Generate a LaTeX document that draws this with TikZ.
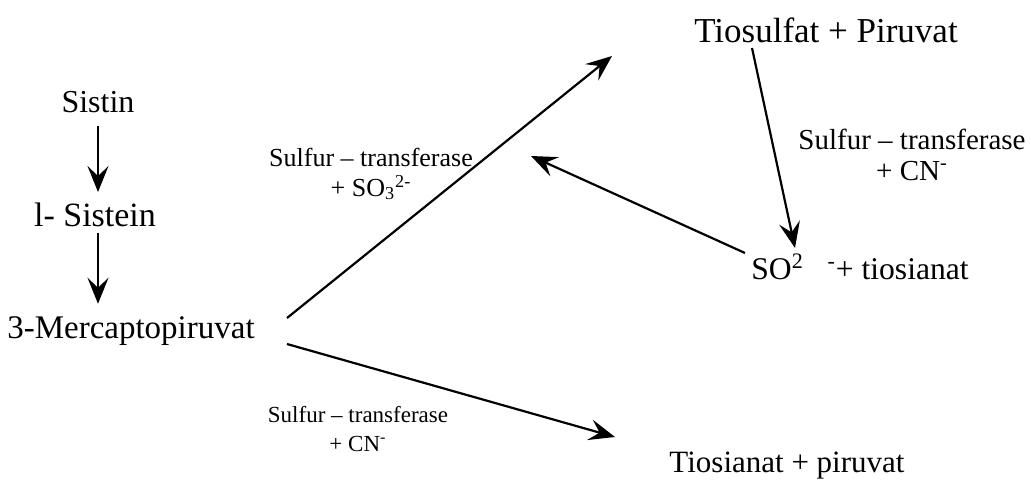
\documentclass[tikz,border=0pt]{standalone}
\usepackage{fontspec}
\setmainfont{Liberation Serif}
\usetikzlibrary{arrows.meta}

\begin{document}
\begin{tikzpicture}[x=0.5pt,y=-0.5pt,
every node/.style={inner sep=0pt},
cpd/.style={font=\fontsize{16.5}{18}\selectfont},
enzlabel/.style={align=center},
rx/.style={-{Stealth[length=13pt,width=10.5pt,inset=5pt]},line width=1.1pt}]
\useasboundingbox (0,0) rectangle (1031,482);
% main compounds
\node[cpd,font=\fontsize{16}{18}\selectfont,anchor=base] (sistin) at (98,112) {Sistin};
\node[cpd,font=\fontsize{17}{18}\selectfont,anchor=base] (sistein) at (95,226) {l- Sistein};
\node[cpd,anchor=base] (merkap) at (131,338) {3-Mercaptopiruvat};
\node[cpd,font=\fontsize{17.5}{18}\selectfont,anchor=base] (tiosulf) at (826,42) {Tiosulfat + Piruvat};
\node[cpd,font=\fontsize{15.8}{18}\selectfont,anchor=base west] (sulfit) at (751,279)
  {SO\textsuperscript{2}\hspace{0.75em}\textsuperscript{-}+ tiosianat};
\node[cpd,font=\fontsize{15.5}{18}\selectfont,anchor=base] (tiosian) at (787,472) {Tiosianat + piruvat};
% enzyme labels
\node[enzlabel,font=\fontsize{13}{15}\selectfont,anchor=base] (enz1) at (371,196)
  {Sulfur -- transferase\\+ SO\textsubscript{3}\textsuperscript{2-}};
\node[enzlabel,font=\fontsize{14.5}{15.5}\selectfont,anchor=base] (enz2) at (912,180)
  {Sulfur -- transferase\\+ CN\textsuperscript{-}};
\node[enzlabel,font=\fontsize{11.5}{14.5}\selectfont,anchor=base] (enz3) at (358,451)
  {Sulfur -- transferase\\+ CN\textsuperscript{-}};
% arrow ends
\coordinate (m1) at (287,318);
\coordinate (m2) at (287,344);
\coordinate (t1) at (612,56);
\coordinate (t2) at (752,48);
\coordinate (s1) at (795,248);
\coordinate (s2) at (745,253);
\coordinate (e1) at (531,156);
\coordinate (p1) at (615,437);
\draw[rx,shorten <=6.5pt,shorten >=5pt] (sistin.south) -- (sistin.south |- sistein.north);
\draw[rx,shorten <=3pt,shorten >=6pt] (sistin.south |- sistein.south) -- (sistin.south |- merkap.north);
\draw[rx] (m1) -- (t1);
\draw[rx] (t2) -- (s1);
\draw[rx] (s2) -- (e1);
\draw[rx] (m2) -- (p1);
\end{tikzpicture}
\end{document}
